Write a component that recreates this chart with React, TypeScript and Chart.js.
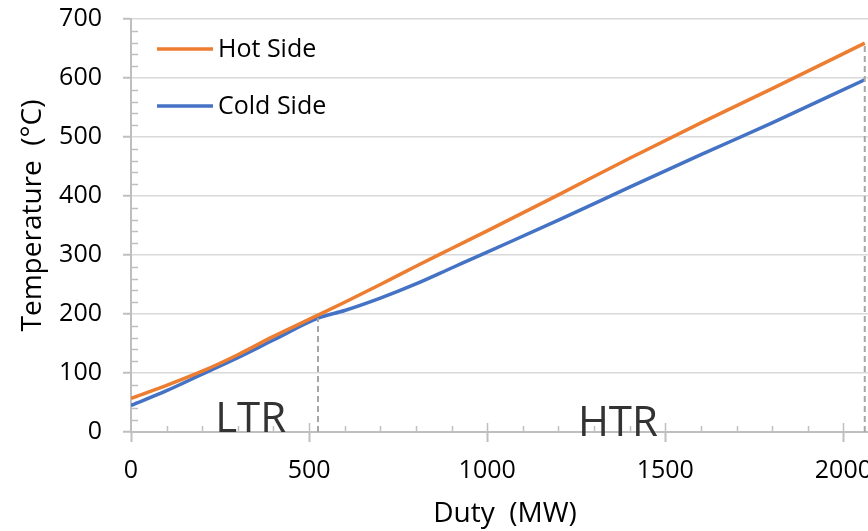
import { useEffect, useRef } from "react";
import { Chart, registerables } from "chart.js";

Chart.register(...registerables);

// Duty (MW) sample positions shared by both streams
const duty = [0, 100, 200, 300, 400, 525, 600, 700, 800, 900, 1000, 1200, 1400, 1600, 1800, 2060];
// Temperatures (°C)
const hotSide = [57, 79, 103, 131, 162, 198, 220, 250, 281, 311, 341, 402, 464, 524, 582, 659];
const coldSide = [45, 70, 98, 126, 156, 193, 206, 227, 251, 278, 305, 359, 415, 470, 524, 597];

const seriesNames = ["Hot Side", "Cold Side"];
const regionNames = ["LTR", "HTR"];
// Duty at which the low-temperature recuperator ends and at which the high-temperature one ends
const ltrEnd = 525;
const htrEnd = 2060;

const xTicks = [0, 500, 1000, 1500, 2000];
const yTicks = [0, 100, 200, 300, 400, 500, 600, 700];

const xAxisTitle = "Duty  (MW)";
const yAxisTitle = "Temperature  (°C)";

const FONT = "'Open Sans', sans-serif";
const HOT = "#ED7D31";
const COLD = "#4472C4";
const AXIS = "#BFBFBF";
const GRID = "#D9D9D9";
const DASH = "#A6A6A6";

const toPoints = (xs: number[], ys: number[]) => xs.map((x, i) => ({ x, y: ys[i] }));

// Minor tick marks on both axes plus the inner half of the x major ticks
const minorTicks = {
  id: "minorTicks",
  beforeDatasetsDraw(chart: any) {
    const { ctx, chartArea, scales } = chart;
    const xs = scales.x;
    const ys = scales.y;
    ctx.save();
    ctx.strokeStyle = AXIS;
    ctx.lineWidth = 1.5;
    ctx.beginPath();
    for (let v = 100; v <= xs.max; v += 100) {
      const px = Math.round(xs.getPixelForValue(v)) + 0.5;
      const len = v % 500 === 0 ? 9 : 6;
      ctx.moveTo(px, chartArea.bottom);
      ctx.lineTo(px, chartArea.bottom - len);
    }
    for (let v = 20; v < ys.max; v += 20) {
      if (v % 100 === 0) continue;
      const py = Math.round(ys.getPixelForValue(v)) + 0.5;
      ctx.moveTo(chartArea.left, py);
      ctx.lineTo(chartArea.left + 7, py);
    }
    ctx.stroke();
    ctx.restore();
  },
};

// Legend inside the plot area, the LTR / HTR region names and the y-axis title
const overlay = {
  id: "overlay",
  afterDatasetsDraw(chart: any) {
    const { ctx, chartArea, scales } = chart;
    ctx.save();
    const colors = [HOT, COLD];
    seriesNames.forEach((name, i) => {
      const y = chartArea.top + 30 + i * 57;
      const x0 = chartArea.left + 26;
      ctx.strokeStyle = colors[i];
      ctx.lineWidth = 3.5;
      ctx.beginPath();
      ctx.moveTo(x0, y);
      ctx.lineTo(x0 + 56, y);
      ctx.stroke();
      ctx.fillStyle = "#000";
      ctx.font = `25px ${FONT}`;
      ctx.textAlign = "left";
      ctx.textBaseline = "middle";
      ctx.fillText(name, x0 + 61, y + 1);
    });

    ctx.fillStyle = "#333333";
    ctx.font = `42px ${FONT}`;
    ctx.textAlign = "center";
    ctx.textBaseline = "alphabetic";
    const centers = [336, 1367];
    const drops = [0, 4];
    regionNames.forEach((name, i) => {
      ctx.fillText(name, scales.x.getPixelForValue(centers[i]), chartArea.bottom + drops[i]);
    });

    ctx.translate(33, (chartArea.top + chartArea.bottom) / 2 - 10);
    ctx.rotate(-Math.PI / 2);
    ctx.fillStyle = "#000";
    ctx.font = `28px ${FONT}`;
    ctx.textAlign = "center";
    ctx.textBaseline = "middle";
    ctx.fillText(yAxisTitle, 0, 0);
    ctx.restore();
  },
};

export default function App() {
  const ref = useRef<HTMLCanvasElement | null>(null);

  useEffect(() => {
    if (!ref.current) return;
    const ltrIdx = duty.indexOf(ltrEnd);
    const htrIdx = duty.indexOf(htrEnd);
    const chart = new Chart(ref.current, {
      type: "line",
      data: {
        datasets: [
          {
            label: "LTR boundary",
            data: [
              { x: ltrEnd, y: 0 },
              { x: ltrEnd, y: coldSide[ltrIdx] },
            ],
            borderColor: DASH,
            borderWidth: 2,
            borderDash: [6, 4],
            pointRadius: 0,
          },
          {
            label: "HTR boundary",
            data: [
              { x: htrEnd, y: 0 },
              { x: htrEnd, y: hotSide[htrIdx] },
            ],
            borderColor: DASH,
            borderWidth: 2,
            borderDash: [6, 4],
            pointRadius: 0,
          },
          {
            label: seriesNames[0],
            data: toPoints(duty, hotSide),
            borderColor: HOT,
            borderWidth: 3.5,
            pointRadius: 0,
            cubicInterpolationMode: "monotone",
          },
          {
            label: seriesNames[1],
            data: toPoints(duty, coldSide),
            borderColor: COLD,
            borderWidth: 3.5,
            pointRadius: 0,
            cubicInterpolationMode: "monotone",
          },
        ],
      },
      options: {
        responsive: false,
        animation: false,
        devicePixelRatio: 1,
        layout: { padding: { top: 19, right: 1, left: 0, bottom: 0 } },
        plugins: { legend: { display: false }, tooltip: { enabled: false } },
        scales: {
          x: {
            type: "linear",
            min: 0,
            max: 2100,
            afterFit: (s: any) => {
              s.height = 99;
              s.paddingLeft = 0;
              s.paddingRight = 0;
            },
            afterBuildTicks: (s: any) => {
              s.ticks = xTicks.map((value) => ({ value }));
            },
            ticks: {
              color: "#000",
              font: { family: FONT, size: 25 },
              padding: 14,
              maxRotation: 0,
              autoSkip: false,
              callback: (v: any) => String(v),
            },
            grid: {
              drawOnChartArea: false,
              drawTicks: true,
              tickLength: 10,
              tickColor: AXIS,
              tickWidth: 2,
            },
            border: { color: AXIS, width: 2 },
            title: {
              display: true,
              text: xAxisTitle,
              color: "#000",
              font: { family: FONT, size: 28 },
              padding: 0,
            },
          },
          y: {
            type: "linear",
            min: 0,
            max: 700,
            afterFit: (s: any) => {
              s.width = 131;
              s.paddingTop = 0;
              s.paddingBottom = 0;
            },
            afterBuildTicks: (s: any) => {
              s.ticks = yTicks.map((value) => ({ value }));
            },
            ticks: {
              color: "#000",
              font: { family: FONT, size: 25 },
              padding: 21,
              autoSkip: false,
              callback: (v: any) => String(v),
            },
            grid: {
              color: GRID,
              lineWidth: 1.5,
              tickLength: 8,
              tickColor: AXIS,
              tickWidth: 2,
            },
            border: { color: AXIS, width: 2 },
            title: { display: false },
          },
        },
      },
      plugins: [minorTicks, overlay],
    } as any);
    return () => chart.destroy();
  }, []);

  return (
    <div
      style={{
        position: "fixed",
        left: 0,
        top: 0,
        width: 868,
        height: 531,
        overflow: "hidden",
        background: "#fff",
      }}
    >
      <canvas ref={ref} width={880} height={531} style={{ display: "block" }} />
    </div>
  );
}
